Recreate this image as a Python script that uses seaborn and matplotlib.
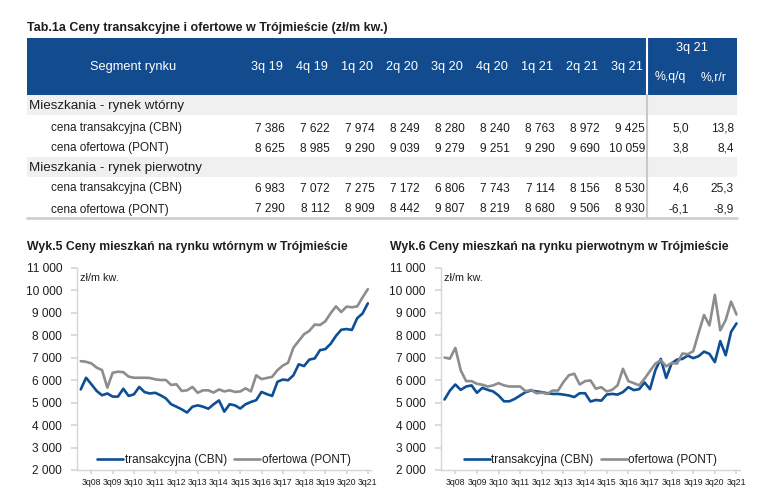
import numpy as np
import pandas as pd
import matplotlib
matplotlib.use("Agg")
import matplotlib.pyplot as plt
from matplotlib.patches import Rectangle
from matplotlib.ticker import FuncFormatter
import seaborn as sns

# --- Dane: tabela ---
table_quarters = ['3q 19', '4q 19', '1q 20', '2q 20', '3q 20', '4q 20', '1q 21', '2q 21', '3q 21']
sec_cbn_tab = [7386, 7622, 7974, 8249, 8280, 8240, 8763, 8972, 9425]
sec_pont_tab = [8625, 8985, 9290, 9039, 9279, 9251, 9290, 9690, 10059]
pri_cbn_tab = [6983, 7072, 7275, 7172, 6806, 7743, 7114, 8156, 8530]
pri_pont_tab = [7290, 8112, 8909, 8442, 9807, 8219, 8680, 9506, 8930]
sec_cbn_pct = [5.0, 13.8]
sec_pont_pct = [3.8, 8.4]
pri_cbn_pct = [4.6, 25.3]
pri_pont_pct = [-6.1, -8.9]

# --- Dane: wykresy (1q08 - 2q19, dalej wartosci z tabeli) ---
sec_cbn_hist = [5590, 6110, 5820, 5520, 5330, 5410, 5270, 5270, 5620, 5300, 5370, 5700,
                5470, 5410, 5440, 5330, 5190, 4930, 4820, 4700, 4560, 4820, 4880, 4820,
                4730, 4930, 5100, 4600, 4930, 4880, 4740, 4930, 5030, 5110, 5480, 5380,
                5300, 5930, 6030, 6000, 6220, 6710, 6630, 6920, 6970, 7340]
sec_pont_hist = [6850, 6820, 6750, 6560, 6450, 5670, 6330, 6380, 6360, 6160, 6110, 6110,
                 6110, 6100, 6040, 6010, 6010, 5790, 5820, 5520, 5550, 5700, 5440, 5550,
                 5550, 5450, 5590, 5500, 5550, 5480, 5500, 5640, 5500, 6220, 6050, 6100,
                 6150, 6450, 6650, 6780, 7450, 7750, 8050, 8200, 8480, 8460]
pri_cbn_hist = [5140, 5540, 5810, 5570, 5720, 5770, 5440, 5660, 5570, 5500, 5320, 5060,
                5060, 5170, 5320, 5470, 5540, 5500, 5470, 5420, 5390, 5390, 5360, 5320,
                5250, 5420, 5420, 5050, 5120, 5090, 5360, 5390, 5360, 5470, 5690, 5560,
                5600, 5900, 5600, 6450, 6950, 6100, 6750, 6920, 6950, 7100]
pri_pont_hist = [7010, 6960, 7440, 6440, 5960, 5960, 5840, 5800, 5720, 5770, 5870, 5770,
                 5720, 5720, 5720, 5510, 5570, 5420, 5450, 5390, 5540, 5540, 5920, 6220,
                 6290, 5810, 5960, 5990, 5620, 5690, 5500, 5570, 5770, 6510, 5960, 5870,
                 5770, 6070, 6410, 6740, 6890, 6620, 6770, 6740, 7190, 7160]

sec_cbn = sec_cbn_hist + sec_cbn_tab
sec_pont = sec_pont_hist + sec_pont_tab
pri_cbn = pri_cbn_hist + pri_cbn_tab
pri_pont = pri_pont_hist + pri_pont_tab

xtick_labels = ['3q08', '3q09', '3q10', '3q11', '3q12', '3q13', '3q14',
                '3q15', '3q16', '3q17', '3q18', '3q19', '3q20', '3q21']
series_names = ['transakcyjna (CBN)', 'ofertowa (PONT)']

# --- Styl ---
sns.set_theme(style="white")
plt.rcParams['font.family'] = ['Liberation Sans', 'DejaVu Sans']

BLUE = '#0d4f95'
GRAY = '#8d8d8d'
HEADER = '#134c8e'
BAND = '#f0f0f0'
TXT = '#1e1e1e'

fig = plt.figure(figsize=(7.65, 5.0), dpi=100)
bg = fig.add_axes([0, 0, 1, 1])
bg.set_xlim(0, 765)
bg.set_ylim(500, 0)
bg.axis('off')

# --- Tabela ---
bg.text(27, 28, 'Tab.1a Ceny transakcyjne i ofertowe w Trójmieście (zł/m kw.)',
        fontsize=9, weight='bold', va='center', color=TXT)
bg.add_patch(Rectangle((27, 38), 710, 57, color=HEADER, lw=0))
bg.plot([647, 647], [38, 95], color='white', lw=1.5)
bg.text(133, 67, 'Segment rynku', color='white', fontsize=9.2, ha='center', va='center')
for i, q in enumerate(table_quarters):
    bg.text(267 + 45 * i, 67, q, color='white', fontsize=9.2, ha='center', va='center')
bg.text(692, 48, '3q 21', color='white', fontsize=9.2, ha='center', va='center')
bg.text(670, 77, '%,q/q', color='white', fontsize=8.8, ha='center', va='center')
bg.text(714, 77, '%,r/r', color='white', fontsize=8.8, ha='center', va='center')

bg.add_patch(Rectangle((27, 95), 710, 20, color=BAND, lw=0))
bg.add_patch(Rectangle((27, 157), 710, 20, color=BAND, lw=0))
bg.text(29, 105, 'Mieszkania - rynek wtórny', fontsize=9.6, va='center_baseline', color=TXT)
bg.text(29, 167, 'Mieszkania - rynek pierwotny', fontsize=9.6, va='center_baseline', color=TXT)

rows = [
    (127, 'cena transakcyjna (CBN)', sec_cbn_tab, sec_cbn_pct),
    (147, 'cena ofertowa (PONT)', sec_pont_tab, sec_pont_pct),
    (187, 'cena transakcyjna (CBN)', pri_cbn_tab, pri_cbn_pct),
    (208, 'cena ofertowa (PONT)', pri_pont_tab, pri_pont_pct),
]
fmt_num = lambda v: f'{v:,}'.replace(',', ' ')
fmt_pct = lambda v: f'{v:.1f}'.replace('.', ',')
for y, label, vals, pcts in rows:
    bg.text(51, y, label, fontsize=8.5, va='center_baseline', color=TXT)
    for i, v in enumerate(vals):
        bg.text(285 + 45 * i, y, fmt_num(v), fontsize=8.6, va='center_baseline',
                ha='right', color=TXT)
    bg.text(689, y, fmt_pct(pcts[0]), fontsize=8.6, va='center_baseline', ha='right', color=TXT)
    bg.text(734, y, fmt_pct(pcts[1]), fontsize=8.6, va='center_baseline', ha='right', color=TXT)

bg.plot([647, 647], [95, 218], color='#c8c8c8', lw=1.5)
bg.plot([27, 737], [218, 218], color='#d0d0d0', lw=2)

# --- Wykresy ---
bg.text(27, 247, 'Wyk.5 Ceny mieszkań na rynku wtórnym w Trójmieście',
        fontsize=8.8, weight='bold', va='center', color=TXT)
bg.text(390, 247, 'Wyk.6 Ceny mieszkań na rynku pierwotnym w Trójmieście',
        fontsize=8.8, weight='bold', va='center', color=TXT)

ax1 = fig.add_axes([77.3 / 765, 0.06, 294 / 765, 0.404])
ax2 = fig.add_axes([441 / 765, 0.06, 299 / 765, 0.404])

tick_pos = list(range(2, 55, 4))

for ax, cbn, pont in [(ax1, sec_cbn, sec_pont), (ax2, pri_cbn, pri_pont)]:
    df = pd.DataFrame({'q': np.arange(len(cbn)),
                       series_names[0]: cbn,
                       series_names[1]: pont})
    long = df.melt(id_vars='q', var_name='seria', value_name='cena')
    sns.lineplot(data=long, x='q', y='cena', hue='seria', hue_order=series_names,
                 palette=[BLUE, GRAY], linewidth=1.9, errorbar=None, ax=ax)
    ax.set_xlim(-0.65, 54.65)
    ax.set_ylim(2000, 11000)
    ax.set_yticks(range(2000, 11001, 1000))
    ax.yaxis.set_major_formatter(FuncFormatter(lambda v, p: f'{int(v):,}'.replace(',', ' ')))
    ax.set_xticks(tick_pos)
    ax.set_xticklabels(xtick_labels)
    ax.set_xlabel('')
    ax.set_ylabel('')
    for s in ['top', 'right']:
        ax.spines[s].set_visible(False)
    for s in ['left', 'bottom']:
        ax.spines[s].set_color('#d6d6d6')
        ax.spines[s].set_linewidth(1.0)
    ax.tick_params(axis='y', length=4, color='#d6d6d6', direction='out', pad=7,
                   labelsize=8.6, labelcolor=TXT, left=True)
    ax.tick_params(axis='x', length=3, color='#d6d6d6', direction='out', pad=3,
                   labelsize=6.3, labelcolor=TXT, bottom=True)
    ax.text(0.01, 0.95, 'zł/m kw.', transform=ax.transAxes, fontsize=7.8, va='center', color=TXT)
    handles, labels = ax.get_legend_handles_labels()
    ax.legend(handles, labels, ncol=2, loc='center', bbox_to_anchor=(0.5, 0.05),
              frameon=False, fontsize=8.5, handlelength=2.2, handletextpad=0.15,
              columnspacing=0.6, labelcolor=TXT)

fig.savefig('out.png', dpi=100)
